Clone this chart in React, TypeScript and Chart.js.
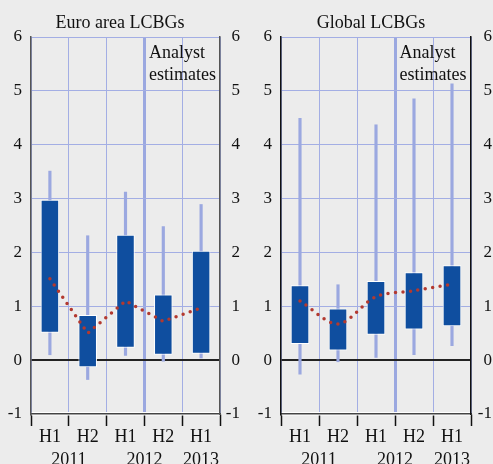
import React, { useEffect, useRef } from "react";
import { Chart, registerables } from "chart.js";

Chart.register(...registerables);

// ---------- data ----------
const categories = ["H1", "H2", "H1", "H2", "H1"];
const yearLabels = ["2011", "2012", "2013"];
const yearPositions = [0.5, 2.5, 4];
const estimateStart = 2.5;
const noteLines = ["Analyst", "estimates"];
const yMin = -1;
const yMax = 6;

const euroTitle = "Euro area LCBGs";
const euroBoxLow = [0.51, -0.13, 0.23, 0.1, 0.12];
const euroBoxHigh = [2.98, 0.84, 2.33, 1.22, 2.03];
const euroWhiskLow = [0.1, -0.36, 0.09, -0.02, 0.04];
const euroWhiskHigh = [3.51, 2.31, 3.12, 2.48, 2.89];
const euroMedian = [1.51, 0.5, 1.1, 0.72, 0.97];

const globalTitle = "Global LCBGs";
const globalBoxLow = [0.3, 0.18, 0.47, 0.57, 0.63];
const globalBoxHigh = [1.39, 0.96, 1.47, 1.63, 1.76];
const globalWhiskLow = [-0.26, -0.03, 0.05, 0.1, 0.27];
const globalWhiskHigh = [4.49, 1.4, 4.37, 4.85, 5.13];
const globalMedian = [1.1, 0.67, 1.18, 1.29, 1.41];

// half-category label slots for the year axis (built from the year arrays)
const yearSlots = Array.from({ length: categories.length * 2 + 1 }, (_, i) => {
  const k = yearPositions.findIndex((p) => (p + 0.5) * 2 === i);
  return k >= 0 ? yearLabels[k] : "";
});

// ---------- style ----------
const FONT = "'Liberation Serif', 'Times New Roman', serif";
const BG = "#ececec";
const GRID = "#a3aee4";
const WHISK = "#9ba8e0";
const BOX = "#0f4e9f";
const RED = "#b3392f";
const TEXT = "#111";

const notePlugin = {
  id: "analystNote",
  afterDatasetsDraw(chart: any) {
    const { ctx, chartArea } = chart;
    const x = chart.scales.x.getPixelForValue(estimateStart) + 4.5;
    ctx.save();
    ctx.font = `18px ${FONT}`;
    ctx.fillStyle = TEXT;
    ctx.textAlign = "left";
    ctx.textBaseline = "alphabetic";
    noteLines.forEach((t, i) => ctx.fillText(t, x, chartArea.top + 21 + i * 22));
    ctx.restore();
  },
};

type PanelProps = {
  title: string;
  boxLow: number[];
  boxHigh: number[];
  whiskLow: number[];
  whiskHigh: number[];
  median: number[];
  tension: number;
  left: number;
  width: number;
  leftWidth: number;
  rightWidth: number;
  padRight: number;
  leftBorder: string;
  rightBorder: string;
};

function Panel(p: PanelProps) {
  const ref = useRef<HTMLCanvasElement | null>(null);
  useEffect(() => {
    if (!ref.current) return;
    const chart = new Chart(ref.current, {
      type: "bar",
      data: {
        labels: categories,
        datasets: [
          {
            type: "line",
            data: p.median,
            borderColor: RED,
            borderWidth: 3.5,
            borderDash: [0, 7.5],
            borderCapStyle: "round",
            pointRadius: 0,
            tension: p.tension,
            fill: false,
            order: 0,
          } as any,
          {
            type: "bar",
            data: p.boxLow.map((v, i) => [v, p.boxHigh[i]]),
            backgroundColor: BOX,
            borderColor: "#ffffff",
            borderWidth: 1,
            borderSkipped: false,
            grouped: false,
            barPercentage: 0.49,
            categoryPercentage: 1,
            order: 1,
          } as any,
          {
            type: "bar",
            data: p.whiskLow.map((v, i) => [v, p.whiskHigh[i]]),
            backgroundColor: WHISK,
            borderWidth: 0,
            grouped: false,
            barThickness: 2.5,
            order: 2,
          } as any,
        ],
      },
      options: {
        animation: false,
        responsive: false,
        maintainAspectRatio: false,
        layout: { padding: { left: 0, right: p.padRight, top: 0, bottom: 0 } },
        plugins: {
          legend: { display: false },
          tooltip: { enabled: false },
          title: {
            display: true,
            text: p.title,
            color: TEXT,
            font: { family: FONT, size: 18, weight: "normal", lineHeight: 1.2 },
            padding: { top: 12, bottom: 3.4 },
          },
        },
        scales: {
          x: {
            type: "category",
            position: "bottom",
            offset: true,
            grid: {
              offset: true,
              color: (c: any) => (c.index === 3 ? WHISK : GRID),
              lineWidth: (c: any) => (c.index === 3 ? 3 : 1),
              tickColor: "#111",
              tickLength: 12,
              tickWidth: 1.5,
            },
            border: { display: true, color: "#444", width: 1.5 },
            afterFit: (s: any) => {
              s.height = 36;
            },
            ticks: {
              color: TEXT,
              font: { family: FONT, size: 18, lineHeight: 1 },
              padding: 2,
              maxRotation: 0,
              autoSkip: false,
            },
          },
          x2: {
            type: "category",
            labels: yearSlots,
            position: "bottom",
            weight: 1,
            offset: false,
            grid: { display: false, drawTicks: false },
            border: { display: false },
            afterFit: (s: any) => {
              s.height = 14;
            },
            ticks: {
              color: TEXT,
              font: { family: FONT, size: 18, lineHeight: 1 },
              padding: 1,
              maxRotation: 0,
              autoSkip: false,
            },
          },
          y: {
            position: "left",
            min: yMin,
            max: yMax,
            ticks: { stepSize: 1, padding: 9, color: TEXT, font: { family: FONT, size: 17 } },
            grid: {
              color: (c: any) =>
                c.tick && c.tick.value === 0 ? "#222" : c.tick && c.tick.value === yMin ? "#ffffff" : GRID,
              lineWidth: (c: any) =>
                c.tick && c.tick.value === 0 ? 2 : c.tick && c.tick.value === yMin ? 3.5 : 1,
              drawTicks: false,
            },
            border: { color: p.leftBorder, width: 1.5 },
            afterFit: (s: any) => {
              s.width = p.leftWidth;
            },
          },
          y2: {
            position: "right",
            min: yMin,
            max: yMax,
            ticks: { stepSize: 1, padding: 0, crossAlign: "far", color: TEXT, font: { family: FONT, size: 17 } },
            grid: { drawOnChartArea: false, drawTicks: false },
            border: { color: p.rightBorder, width: 1.5 },
            afterFit: (s: any) => {
              s.width = p.rightWidth;
            },
          },
        },
      } as any,
      plugins: [notePlugin],
    });
    return () => chart.destroy();
  }, []);
  return (
    <canvas
      ref={ref}
      width={p.width}
      height={464}
      style={{ position: "absolute", left: p.left, top: 0, width: p.width, height: 464 }}
    />
  );
}

export default function App() {
  return (
    <div
      style={{
        position: "fixed",
        left: 0,
        top: 0,
        width: 493,
        height: 464,
        overflow: "hidden",
        background: BG,
      }}
    >
      <Panel
        title={euroTitle}
        boxLow={euroBoxLow}
        boxHigh={euroBoxHigh}
        whiskLow={euroWhiskLow}
        whiskHigh={euroWhiskHigh}
        median={euroMedian}
        tension={0}
        left={0}
        width={253}
        leftWidth={31}
        rightWidth={20}
        padRight={13}
        leftBorder="#555"
        rightBorder="#555"
      />
      <Panel
        title={globalTitle}
        boxLow={globalBoxLow}
        boxHigh={globalBoxHigh}
        whiskLow={globalWhiskLow}
        whiskHigh={globalWhiskHigh}
        median={globalMedian}
        tension={0.3}
        left={250}
        width={254}
        leftWidth={31}
        rightWidth={21}
        padRight={12}
        leftBorder="#111"
        rightBorder="#111"
      />
    </div>
  );
}
